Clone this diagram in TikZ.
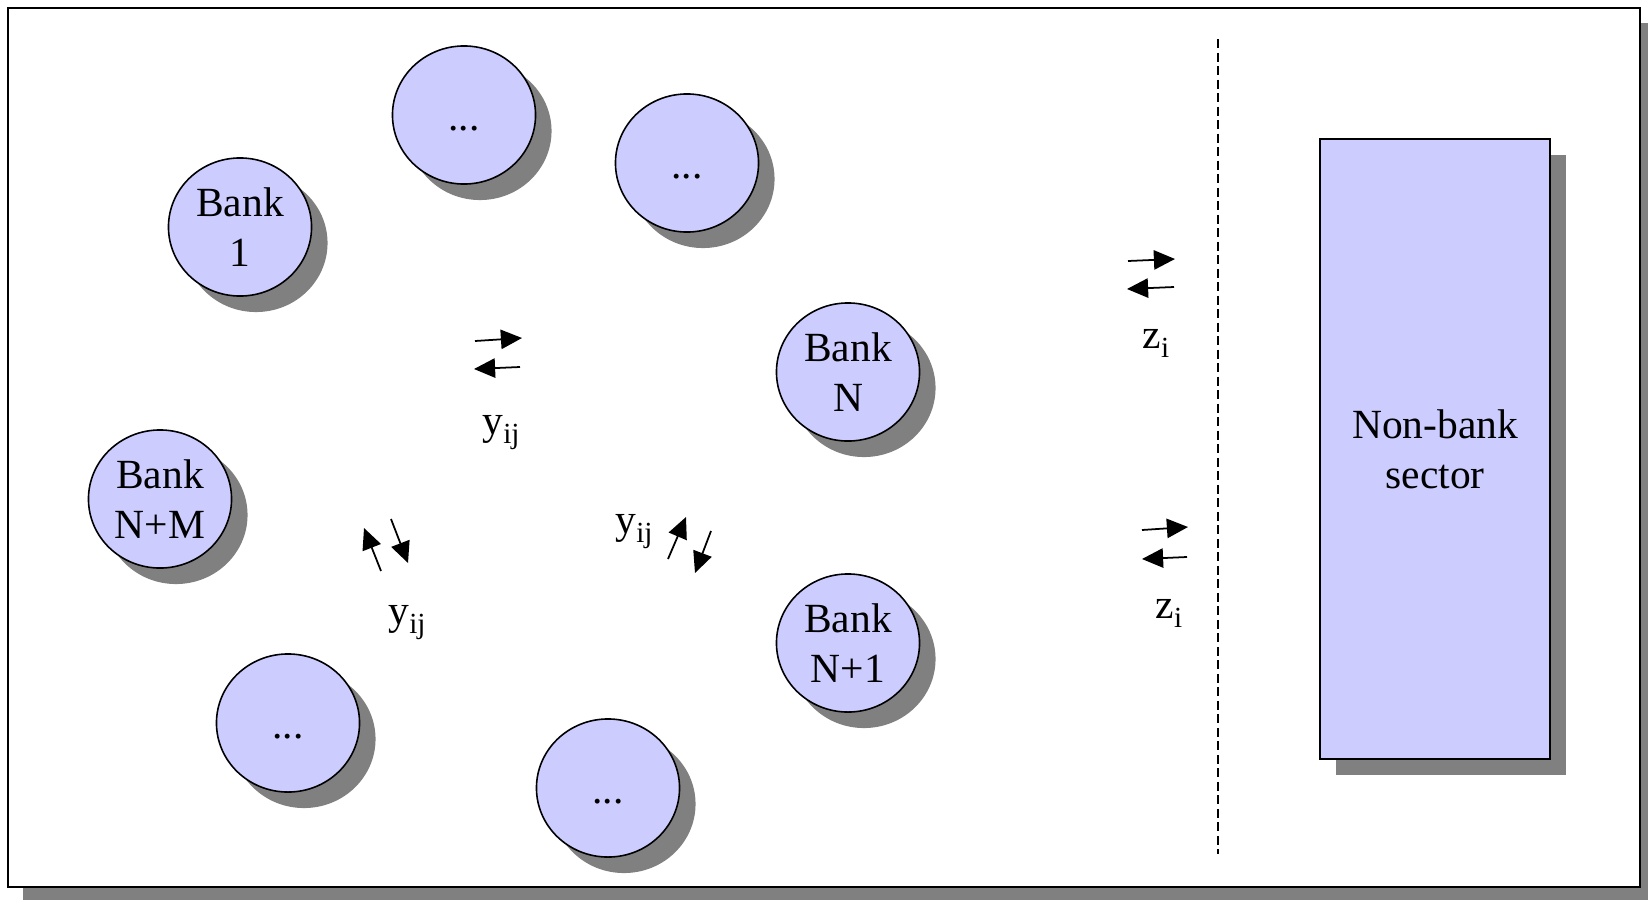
\documentclass[tikz,border=0pt]{standalone}
\usepackage{fontspec}
\setmainfont{Liberation Serif}
\usetikzlibrary{shapes.geometric,shadows,arrows.meta}
\definecolor{bankfill}{RGB}{204,204,255}
\definecolor{shadowgray}{RGB}{128,128,128}
\newcommand{\lowsub}[1]{\raisebox{-2.8pt}{\fontsize{8.3}{9}\selectfont #1}}

\begin{document}
\begin{tikzpicture}[x=0.01cm, y=-0.01cm,
    bank/.style={ellipse, draw, line width=0.45pt, fill=bankfill,
        minimum width=1.43cm, minimum height=1.38cm, inner sep=0pt, align=center,
        font=\fontsize{11.8}{14.3}\selectfont,
        drop shadow={shadow xshift=0.16cm, shadow yshift=-0.16cm, fill=shadowgray, opacity=1}},
    flow/.style={line width=0.5pt, -{Triangle[length=6pt,width=5.5pt]}},
    lbl/.style={anchor=base, inner sep=0pt, font=\fontsize{11.8}{14.3}\selectfont}]

\useasboundingbox (0,0) rectangle (1648,900);

% frame with its shadow
\fill[shadowgray] (23,23) rectangle (1648,900);
\draw[line width=0.75pt, fill=white] (8,8) rectangle (1640,887);

% banks
\node[bank] (dotsa) at (464,115) {...\rule[-4pt]{0pt}{16.6pt}};
\node[bank] (dotsb) at (687,163) {...\rule[-4pt]{0pt}{16.6pt}};
\node[bank] (bank1) at (240,227) {Bank\\1};
\node[bank] (bankn) at (848,372) {Bank\\N};
\node[bank] (banknm) at (160,499) {Bank\\N+M};
\node[bank] (banknone) at (848,643) {Bank\\N+1};
\node[bank] (dotsc) at (288,723) {...\rule[-4pt]{0pt}{16.6pt}};
\node[bank] (dotsd) at (608,788) {...\rule[-4pt]{0pt}{16.6pt}};

% non-bank sector
\node[draw, line width=0.6pt, fill=bankfill, minimum width=2.3cm, minimum height=6.2cm,
      align=center, font=\fontsize{11.8}{14.3}\selectfont,
      drop shadow={shadow xshift=0.16cm, shadow yshift=-0.16cm, fill=shadowgray, opacity=1}]
      (nonbank) at (1435,449) {Non-bank\\sector};

\draw[line width=0.6pt, dash pattern=on 0.09cm off 0.045cm] (1218,39) -- (1218,854);


% interbank flows
\draw[flow] (475,341) -- (522,338);
\draw[flow] (520,367) -- (474,369);
\node[lbl] (yone) at (501,434) {y\lowsub{ij}};

\draw[flow] (381,571) -- (364,528);
\draw[flow] (391,519) -- (408,563);
\node[lbl] (ytwo) at (407,624) {y\lowsub{ij}};

\draw[flow] (668,559) -- (686,517);
\draw[flow] (711,531) -- (695,573);
\node[lbl] (ythree) at (634,533) {y\lowsub{ij}};

% flows with the non-bank sector
\draw[flow] (1128,261) -- (1175,259);
\draw[flow] (1174,287) -- (1127,289);
\node[lbl] (zone) at (1156,348) {z\lowsub{i}};

\draw[flow] (1142,530) -- (1188,527);
\draw[flow] (1187,557) -- (1142,559);
\node[lbl] (ztwo) at (1169,618) {z\lowsub{i}};

\end{tikzpicture}
\end{document}
